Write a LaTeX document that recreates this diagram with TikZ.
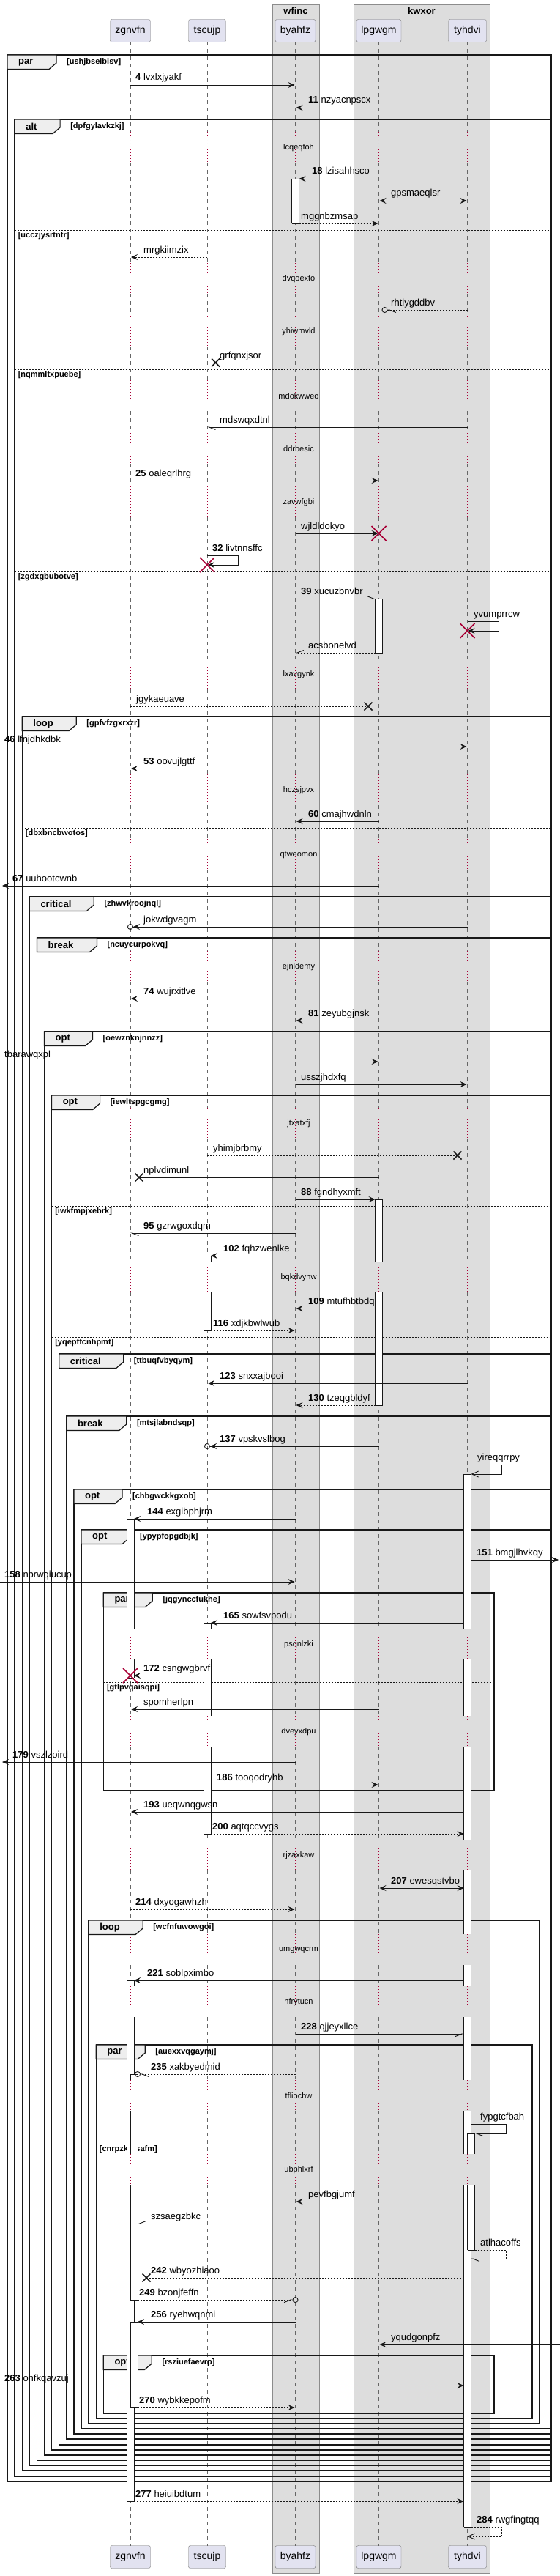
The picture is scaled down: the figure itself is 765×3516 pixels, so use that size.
\documentclass[tikz,border=0pt]{standalone}
\usepackage{fontspec}
\setmainfont{Liberation Sans}
\usetikzlibrary{arrows.meta,calc}
\definecolor{partfill}{RGB}{226,226,240}
\definecolor{boxfill}{RGB}{221,221,221}
\definecolor{tabfill}{RGB}{238,238,238}
\definecolor{pred}{RGB}{168,0,54}
\definecolor{ink}{RGB}{24,24,24}
\newcounter{nn}
\newcommand\Lx[3]{($(#1 |- 0,#3)+(#2,0)$)}
\newcommand\ML[3]{\stepcounter{nn}\node[mlab] (t\arabic{nn}) at (#1,#2) {#3};}
\newcommand\frm[7]{%
  \draw[frl] (#1,#2) rectangle (#3,#4);
  \filldraw[frametab] (#1,#2) -- ({#1+#6},#2) -- ({#1+#6},{#2+11}) -- ({#1+#6-10},{#2+19.5}) -- (#1,{#2+19.5}) -- cycle;
  \stepcounter{nn}\node[kw] (k\arabic{nn}) at ({#1+15},{#2+10}) {#5};
  \node[cnd] (c\arabic{nn}) at ({#1+#6+14},{#2+10}) {[#7]};}
\newcommand\sepa[4]{\draw[sepl] (#1,#3) -- (#2,#3);
  \stepcounter{nn}\node[cnd] (s\arabic{nn}) at ({#1+4.5},{#3+8}) {[#4]};}
\newcommand\actseg[6]{%
  \fill[white] \Lx{#1}{#2}{#3} rectangle \Lx{#1}{#2+10}{#4};
  \draw[actl] \Lx{#1}{#2}{#3} -- \Lx{#1}{#2}{#4};
  \draw[actl] \Lx{#1}{#2+10}{#3} -- \Lx{#1}{#2+10}{#4};
  \ifnum#5=1 \draw[actl] \Lx{#1}{#2}{#3} -- \Lx{#1}{#2+10}{#3};\fi
  \ifnum#6=1 \draw[actl] \Lx{#1}{#2}{#4} -- \Lx{#1}{#2+10}{#4};\fi}
\newcommand\XB[2]{\draw[xk] ({#1-5.5},{#2-5.5}) -- ({#1+5.5},{#2+5.5}) ({#1-5.5},{#2+5.5}) -- ({#1+5.5},{#2-5.5});}
\newcommand\XR[2]{\draw[xr] ({#1-10},{#2-10}) -- ({#1+10},{#2+10}) ({#1-10},{#2+10}) -- ({#1+10},{#2-10});}
\begin{document}
\begin{tikzpicture}[x=1pt,y=-1pt,
 part/.style={draw=black!55, fill=partfill, rounded corners=2.5pt, minimum height=31pt, inner sep=0pt, font=\fontsize{14}{16}\selectfont},
 lifel/.style={draw=black!60, line width=0.7pt, dash pattern=on 5pt off 5pt},
 dly/.style={draw=pred, line width=0.8pt, dash pattern=on 1pt off 3pt},
 grpbox/.style={draw=black!45, fill=boxfill, line width=0.8pt},
 boxt/.style={font=\bfseries\fontsize{13}{15}\selectfont, inner sep=0pt},
 frl/.style={draw=ink, line width=1.4pt},
 frametab/.style={draw=ink, fill=tabfill, line width=1.2pt},
 kw/.style={anchor=west, inner sep=0pt, font=\bfseries\fontsize{13}{15}\selectfont},
 cnd/.style={anchor=west, inner sep=0pt, font=\bfseries\fontsize{11}{13}\selectfont},
 sepl/.style={draw=ink, line width=0.9pt, dash pattern=on 2pt off 2pt},
 actl/.style={draw=ink, line width=0.9pt},
 mlab/.style={anchor=base west, inner sep=0pt, font=\fontsize{13}{15}\selectfont},
 dlab/.style={inner sep=0pt, font=\fontsize{11}{13}\selectfont},
 msg/.style={draw=ink, line width=0.9pt},
 rmsg/.style={msg, dash pattern=on 2pt off 2pt},
 xk/.style={draw=ink, line width=1.5pt},
 xr/.style={draw=pred, line width=1.6pt},
 fa/.style={-{Stealth[length=9pt,width=8pt,inset=3.5pt]}},
 fab/.style={{Stealth[length=9pt,width=8pt,inset=3.5pt]}-{Stealth[length=9pt,width=8pt,inset=3.5pt]}},
 oa/.style={-{Straight Barb[length=9pt,width=8pt]}},
 hl/.style={-{Straight Barb[harpoon,length=9pt,width=7pt]}},
 hr/.style={-{Straight Barb[harpoon,swap,length=9pt,width=7pt]}},
 fac/.style={-{Stealth[length=9pt,width=8pt,inset=3.5pt] Circle[open,length=8pt,width=8pt]}},
 hlc/.style={-{Straight Barb[harpoon,length=9pt,width=7pt] Circle[open,length=8pt,width=8pt]}},
 hrc/.style={-{Straight Barb[harpoon,swap,length=9pt,width=7pt] Circle[open,length=8pt,width=8pt]}}
]
\useasboundingbox (0,0) rectangle (765,3516);
\fill[white] (0,0) rectangle (765,3516);
\coordinate (Ledge) at (0,0);
\coordinate (Redge) at (765,0);
% groups
\draw[grpbox] (372,6) rectangle (436,3512);
\draw[grpbox] (483,6) rectangle (669,3512);
\node[boxt] (wfinc) at (404,15) {wfinc};
\node[boxt] (kwxor) at (576,15) {kwxor};
% participants
\node[part, minimum width=55pt] (zgnvfn) at (178,42) {zgnvfn};
\node[part, minimum width=51pt] (tscujp) at (283,42) {tscujp};
\node[part, minimum width=55pt] (byahfz) at (403.5,42) {byahfz};
\node[part, minimum width=61pt] (lpgwgm) at (517.5,42) {lpgwgm};
\node[part, minimum width=52pt] (tyhdvi) at (638.5,42) {tyhdvi};
\node[part, minimum width=55pt] (zgnvfnB) at (178,3490) {zgnvfn};
\node[part, minimum width=51pt] (tscujpB) at (283,3490) {tscujp};
\node[part, minimum width=55pt] (byahfzB) at (403.5,3490) {byahfz};
\node[part, minimum width=61pt] (lpgwgmB) at (517.5,3490) {lpgwgm};
\node[part, minimum width=52pt] (tyhdviB) at (638.5,3490) {tyhdvi};
% lifelines
\foreach \p in {zgnvfn,tscujp,byahfz,lpgwgm,tyhdvi}{
  \foreach \a/\b in {57.5/180,222/359,401/431,473/519,561/591,633/664,706/899,941/1057,1099/1145,1187/1298,1340/1512,1554/1722,1764/2223,2265/2342,2384/2511,2553/2640,2682/2711,2753/2839,2881/2940,2982/3474.5}{
    \draw[lifel] (\p |- 0,\a) -- (\p |- 0,\b);}
  \foreach \a/\b in {180/222,359/401,431/473,519/561,591/633,664/706,899/941,1057/1099,1145/1187,1298/1340,1512/1554,1722/1764,2223/2265,2342/2384,2511/2553,2640/2682,2711/2753,2839/2881,2940/2982}{
    \draw[dly] (\p |- 0,\a) -- (\p |- 0,\b);}
}
% delay labels
\foreach \t/\yy [count=\i] in {lcqeqfoh/202,dvqoexto/381,yhiwmvld/453,mdokwweo/541,ddrbesic/613,zavwfgbi/686,lxavgynk/921,hczsjpvx/1079,qtweomon/1167,ejnldemy/1320,jtxatxfj/1534,bqkdvyhw/1744,psqnlzki/2245,dveyxdpu/2364,rjzaxkaw/2533,umgwqcrm/2662,nfrytucn/2733,tfliochw/2861,ubphlxrf/2962}{
  \node[dlab] (d\i) at (408,\yy) {\t};}
% frames
\frm{10}{75}{753}{3387}{par}{67}{ushjbselbisv}
\frm{20.1}{163}{753}{3380}{alt}{62}{dpfgylavkzkj}
\sepa{20.1}{753}{314}{ucczjysrtntr}
\sepa{20.1}{753}{504}{nqmmltxpuebe}
\sepa{20.1}{753}{780}{zgdxgbubotve}
\frm{30.2}{978}{753}{3372}{loop}{74}{gpfvfzgxrxzr}
\sepa{30.2}{753}{1130}{dbxbncbwotos}
\frm{40.3}{1224}{753}{3365}{critical}{88}{zhwvkroojnql}
\frm{50.4}{1280}{753}{3358}{break}{82}{ncuycurpokvq}
\frm{60.5}{1408}{753}{3351}{opt}{66}{oewznknjnnzz}
\frm{70.6}{1495}{753}{3344}{opt}{66}{iewltspgcgmg}
\sepa{70.6}{753}{1646}{iwkfmpjxebrk}
\sepa{70.6}{753}{1825}{yqepffcnhpmt}
\frm{80.7}{1848}{753}{3337}{critical}{88}{ttbuqfvbyqym}
\frm{90.8}{1933}{753}{3329}{break}{82}{mtsjlabndsqp}
\frm{100.9}{2033}{753}{3322}{opt}{66}{chbgwckkgxob}
\frm{111}{2088}{753}{3315}{opt}{66}{ypypfopgdbjk}
\frm{141.3}{2174}{675}{2444}{par}{67}{jqgynccfukhe}
\sepa{141.3}{675}{2296}{gtlpvqaisqpi}
\frm{121.1}{2621}{737}{3308}{loop}{74}{wcfnfuwowgoi}
\frm{131.2}{2791}{727}{3301}{par}{67}{auexxvqgaymj}
\sepa{131.2}{727}{2926}{cnrpzkofsafm}
\frm{141.3}{3215}{675}{3294}{opt}{66}{rsziuefaevrp}
% activations
\actseg{byahfz}{-5}{244}{305}{1}{1}
\actseg{lpgwgm}{-5}{817}{891}{1}{1}
\actseg{lpgwgm}{-5}{1637}{1722}{1}{0}
\actseg{lpgwgm}{-5}{1764}{1918}{0}{1}
\actseg{tscujp}{-5}{1714}{1722}{1}{0}
\actseg{tscujp}{-5}{1764}{1816}{0}{1}
\actseg{tyhdvi}{-5}{2012}{2223}{1}{0}
\actseg{tyhdvi}{-5}{2265}{2342}{0}{0}
\actseg{tyhdvi}{-5}{2384}{2511}{0}{0}
\actseg{tyhdvi}{-5}{2553}{2640}{0}{0}
\actseg{tyhdvi}{-5}{2682}{2711}{0}{0}
\actseg{tyhdvi}{-5}{2753}{2839}{0}{0}
\actseg{tyhdvi}{-5}{2881}{2940}{0}{0}
\actseg{tyhdvi}{-5}{2982}{3449}{0}{1}
\actseg{tyhdvi}{0}{2912}{2940}{1}{0}
\actseg{tyhdvi}{0}{2982}{3071}{0}{1}
\actseg{zgnvfn}{-5}{2073}{2223}{1}{0}
\actseg{zgnvfn}{-5}{2265}{2290}{0}{1}
\actseg{tscujp}{-5}{2215}{2223}{1}{0}
\actseg{tscujp}{-5}{2265}{2342}{0}{0}
\actseg{tscujp}{-5}{2384}{2503}{0}{1}
\actseg{zgnvfn}{-5}{2703}{2711}{1}{0}
\actseg{zgnvfn}{-5}{2753}{2839}{0}{0}
\actseg{zgnvfn}{-5}{2881}{2940}{0}{0}
\actseg{zgnvfn}{-5}{2982}{3414}{0}{1}
\actseg{zgnvfn}{0}{2831}{2839}{1}{0}
\actseg{zgnvfn}{0}{2881}{2940}{0}{0}
\actseg{zgnvfn}{0}{2982}{3139}{0}{1}
\actseg{zgnvfn}{0}{3169}{3286}{1}{1}
% messages
\draw[msg,fa] \Lx{zgnvfn}{0}{116} -- \Lx{byahfz}{-1}{116};
\ML{185}{110}{\textbf{4} lvxlxjyakf}
\draw[msg,fa] \Lx{Redge}{0}{147} -- \Lx{byahfz}{1}{147};
\ML{421}{141}{\textbf{11} nzyacnpscx}
\draw[msg,fa] \Lx{lpgwgm}{0}{244} -- \Lx{byahfz}{5}{244};
\ML{426}{238}{\textbf{18} lzisahhsco}
\draw[msg,fab] \Lx{lpgwgm}{1}{274} -- \Lx{tyhdvi}{-1}{274};
\ML{534}{268}{gpsmaeqlsr}
\draw[rmsg,fa] \Lx{byahfz}{5}{305} -- \Lx{lpgwgm}{-1}{305};
\ML{411}{299}{mggnbzmsap}
\draw[rmsg,fa] \Lx{tscujp}{0}{351} -- \Lx{zgnvfn}{1}{351};
\ML{196}{345}{mrgkiimzix}
\draw[rmsg,hlc] \Lx{tyhdvi}{0}{423} -- \Lx{lpgwgm}{4}{423};
\ML{534}{417}{rhtiygddbv}
\draw[rmsg] \Lx{lpgwgm}{0}{495} -- (294.5,495); \XB{294.5}{495}
\ML{300}{489}{grfqnxjsor}
\draw[msg,hl] \Lx{tyhdvi}{0}{583} -- \Lx{tscujp}{0}{583};
\ML{300}{577}{mdswqxdtnl}
\draw[msg,fa] \Lx{zgnvfn}{0}{656} -- \Lx{lpgwgm}{-1}{656};
\ML{185}{650}{\textbf{25} oaleqrlhrg}
\draw[msg,fa] \Lx{byahfz}{0}{728} -- \Lx{lpgwgm}{-1}{728};
\ML{411}{722}{wjldldokyo}
\draw[msg,fa] \Lx{tscujp}{0}{758} -- (325,758) -- (325,771) -- \Lx{tscujp}{1}{771};
\ML{290}{752}{\textbf{32} livtnnsffc}
\draw[msg,hl] \Lx{byahfz}{0}{817} -- \Lx{lpgwgm}{-5}{817};
\ML{411}{811}{\textbf{39} xucuzbnvbr}
\draw[msg,fa] \Lx{tyhdvi}{0}{848} -- (681,848) -- (681,861) -- \Lx{tyhdvi}{1}{861};
\ML{647}{842}{yvumprrcw}
\draw[rmsg,hr] \Lx{lpgwgm}{-5}{891} -- \Lx{byahfz}{0}{891};
\ML{421}{885}{acsbonelvd}
\draw[rmsg] \Lx{zgnvfn}{0}{964} -- (503,964); \XB{503}{964}
\ML{186}{958}{jgykaeuave}
\draw[msg,fa] \Lx{Ledge}{0}{1019} -- \Lx{tyhdvi}{-1}{1019};
\ML{6}{1013}{\textbf{46} lfnjdhkdbk}
\draw[msg,fa] \Lx{Redge}{0}{1049} -- \Lx{zgnvfn}{1}{1049};
\ML{196}{1043}{\textbf{53} oovujlgttf}
\draw[msg,fa] \Lx{lpgwgm}{0}{1121} -- \Lx{byahfz}{1}{1121};
\ML{421}{1115}{\textbf{60} cmajhwdnln}
\draw[msg,fa] \Lx{lpgwgm}{0}{1209} -- \Lx{Ledge}{3}{1209};
\ML{17}{1203}{\textbf{67} uuhootcwnb}
\draw[msg,fac] \Lx{tyhdvi}{0}{1265} -- \Lx{zgnvfn}{-4}{1265};
\ML{196}{1259}{jokwdgvagm}
\draw[msg,fa] \Lx{tscujp}{0}{1363} -- \Lx{zgnvfn}{1}{1363};
\ML{196}{1357}{\textbf{74} wujrxitlve}
\draw[msg,fa] \Lx{lpgwgm}{0}{1393} -- \Lx{byahfz}{1}{1393};
\ML{421}{1387}{\textbf{81} zeyubgjnsk}
\draw[msg,fa] \Lx{Ledge}{0}{1449} -- \Lx{lpgwgm}{-1}{1449};
\ML{6}{1443}{tbarawqxpl}
\draw[msg,fa] \Lx{byahfz}{0}{1480} -- \Lx{tyhdvi}{-1}{1480};
\ML{411}{1474}{usszjhdxfq}
\draw[rmsg] \Lx{tscujp}{0}{1577} -- (625,1577); \XB{625}{1577}
\ML{291}{1571}{yhimjbrbmy}
\draw[msg] \Lx{lpgwgm}{0}{1607} -- (190,1607); \XB{190}{1607}
\ML{196}{1601}{nplvdimunl}
\draw[msg,fa] \Lx{byahfz}{0}{1637} -- \Lx{lpgwgm}{-5}{1637};
\ML{411}{1631}{\textbf{88} fgndhyxmft}
\draw[msg,hl] \Lx{byahfz}{0}{1683} -- \Lx{zgnvfn}{0}{1683};
\ML{196}{1677}{\textbf{95} gzrwgoxdqm}
\draw[msg,fa] \Lx{byahfz}{0}{1714} -- \Lx{tscujp}{5}{1714};
\ML{305}{1708}{\textbf{102} fqhzwenlke}
\draw[msg,fa] \Lx{tyhdvi}{0}{1786} -- \Lx{byahfz}{1}{1786};
\ML{421}{1780}{\textbf{109} mtufhbtbdq}
\draw[rmsg,fa] \Lx{tscujp}{5}{1816} -- \Lx{byahfz}{-1}{1816};
\ML{291}{1810}{\textbf{116} xdjkbwlwub}
\draw[msg,fa] \Lx{tyhdvi}{0}{1888} -- \Lx{tscujp}{1}{1888};
\ML{300}{1882}{\textbf{123} snxxajbooi}
\draw[rmsg,fa] \Lx{lpgwgm}{-5}{1918} -- \Lx{byahfz}{1}{1918};
\ML{421}{1912}{\textbf{130} tzeqgbldyf}
\draw[msg,fac] \Lx{lpgwgm}{0}{1974} -- \Lx{tscujp}{-4}{1974};
\ML{300}{1968}{\textbf{137} vpskvslbog}
\draw[msg,oa] \Lx{tyhdvi}{0}{1999} -- (685,1999) -- (685,2012) -- \Lx{tyhdvi}{5}{2012};
\ML{652}{1993}{yireqqrrpy}
\draw[msg,fa] \Lx{byahfz}{0}{2073} -- \Lx{zgnvfn}{5}{2073};
\ML{201}{2067}{\textbf{144} exgibphjrm}
\draw[msg,fa] \Lx{tyhdvi}{5}{2129} -- \Lx{Redge}{-2}{2129};
\ML{651}{2123}{\textbf{151} bmgjlhvkqy}
\draw[msg,fa] \Lx{Ledge}{0}{2159} -- \Lx{byahfz}{-1}{2159};
\ML{6}{2153}{\textbf{158} nprwqiucup}
\draw[msg,fa] \Lx{tyhdvi}{-5}{2215} -- \Lx{tscujp}{5}{2215};
\ML{305}{2209}{\textbf{165} sowfsvpodu}
\draw[msg,fa] \Lx{lpgwgm}{0}{2287} -- \Lx{zgnvfn}{5}{2287};
\ML{196}{2281}{\textbf{172} csngwgbrvf}
\draw[msg,fa] \Lx{lpgwgm}{0}{2333} -- \Lx{zgnvfn}{1}{2333};
\ML{196}{2327}{spomherlpn}
\draw[msg,fa] \Lx{byahfz}{0}{2405} -- \Lx{Ledge}{3}{2405};
\ML{17}{2399}{\textbf{179} vszlzoird}
\draw[msg,fa] \Lx{tscujp}{5}{2436} -- \Lx{lpgwgm}{-1}{2436};
\ML{296}{2430}{\textbf{186} tooqodryhb}
\draw[msg,fa] \Lx{tyhdvi}{-5}{2473} -- \Lx{zgnvfn}{1}{2473};
\ML{196}{2467}{\textbf{193} ueqwnqgwsn}
\draw[rmsg,fa] \Lx{tscujp}{5}{2503} -- \Lx{tyhdvi}{-5}{2503};
\ML{290}{2497}{\textbf{200} aqtqccvygs}
\draw[msg,fab] \Lx{lpgwgm}{1}{2577} -- \Lx{tyhdvi}{-5}{2577};
\ML{534}{2571}{\textbf{207} ewesqstvbo}
\draw[rmsg,fa] \Lx{zgnvfn}{0}{2606} -- \Lx{byahfz}{-1}{2606};
\ML{185}{2600}{\textbf{214} dxyogawhzh}
\draw[msg,fa] \Lx{tyhdvi}{-5}{2703} -- \Lx{zgnvfn}{5}{2703};
\ML{201}{2697}{\textbf{221} soblpximbo}
\draw[msg,hr] \Lx{byahfz}{0}{2776} -- \Lx{tyhdvi}{-5}{2776};
\ML{411}{2770}{\textbf{228} qjjeyxllce}
\draw[rmsg,hlc] \Lx{byahfz}{0}{2831} -- \Lx{zgnvfn}{6}{2831};
\ML{206}{2825}{\textbf{235} xakbyedmid}
\draw[msg,hl] \Lx{tyhdvi}{5}{2899} -- (691,2899) -- (691,2912) -- \Lx{tyhdvi}{10}{2912};
\ML{656}{2893}{fypgtcfbah}
\draw[msg,fa] \Lx{Redge}{0}{3005} -- \Lx{byahfz}{1}{3005};
\ML{421}{2999}{pevfbgjumf}
\draw[msg,hr] \Lx{tscujp}{0}{3035} -- \Lx{zgnvfn}{10}{3035};
\ML{206}{3029}{szsaegzbkc}
\draw[rmsg,hl] \Lx{tyhdvi}{10}{3071} -- (691,3071) -- (691,3083) -- \Lx{tyhdvi}{5}{3083};
\ML{656}{3065}{atlhacoffs}
\draw[rmsg] \Lx{tyhdvi}{-5}{3109} -- (200,3109); \XB{200}{3109}
\ML{206}{3103}{\textbf{242} wbyozhiaoo}
\draw[rmsg,hrc] \Lx{zgnvfn}{10}{3139} -- \Lx{byahfz}{4}{3139};
\ML{190}{3133}{\textbf{249} bzonjfeffn}
\draw[msg,fa] \Lx{byahfz}{0}{3169} -- \Lx{zgnvfn}{10}{3169};
\ML{206}{3163}{\textbf{256} ryehwqnmi}
\draw[msg,fa] \Lx{Redge}{0}{3200} -- \Lx{lpgwgm}{1}{3200};
\ML{534}{3194}{yqudgonpfz}
\draw[msg,fa] \Lx{Ledge}{0}{3256} -- \Lx{tyhdvi}{-5}{3256};
\ML{6}{3250}{\textbf{263} onfkqavzuj}
\draw[rmsg,fa] \Lx{zgnvfn}{10}{3286} -- \Lx{byahfz}{-1}{3286};
\ML{190}{3280}{\textbf{270} wybkkepofm}
\draw[rmsg,fa] \Lx{zgnvfn}{5}{3414} -- \Lx{tyhdvi}{-5}{3414};
\ML{185}{3408}{\textbf{277} heiuibdtum}
\draw[rmsg,oa] \Lx{tyhdvi}{5}{3449} -- (685,3449) -- (685,3462) -- \Lx{tyhdvi}{0}{3462};
\ML{651}{3443}{\textbf{284} rwgfingtqq}
% destroy marks
\XR{517.5}{728}
\XR{283}{771}
\XR{638.5}{861}
\XR{178}{2287}
\end{tikzpicture}
\end{document}
